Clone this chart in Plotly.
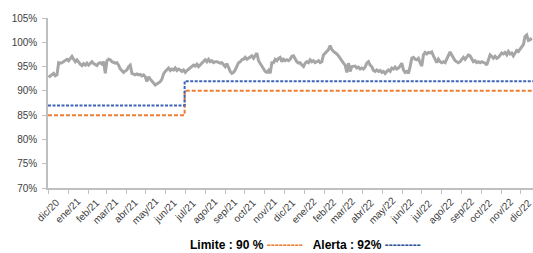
import pandas as pd
import plotly.graph_objects as go

# ---- data ----
start_date = "2020-12-02"
end_date = "2022-12-18"
indicator_values = [
    # dic/20 - jun/21
    92.8, 93.1, 93.5, 93.6, 93.1, 93.3, 95.8, 95.7, 95.8, 96.0, 96.2, 96.5, 96.2, 96.7, 97.1, 96.5,
    96.0, 96.4, 95.8, 95.5, 95.2, 95.6, 95.3, 95.7, 95.3, 95.7, 96.0, 95.6, 95.3, 95.2, 95.7, 95.8,
    95.5, 96.0, 93.6, 96.2, 96.5, 96.4, 96.0, 95.8, 95.7, 95.8, 95.3, 94.5, 94.2, 93.8, 94.1, 94.3,
    95.0, 95.3, 93.6, 93.5, 93.3, 93.5, 93.3, 93.4, 93.1, 93.3, 92.9, 91.9, 92.9, 92.4, 91.9, 91.6,
    91.2, 91.4, 91.7, 91.9, 92.4, 93.5, 94.0,
    # jun/21 - dic/21
    94.3, 94.7, 94.2, 94.5, 94.3, 94.7, 94.2, 94.5, 94.3, 94.0, 94.3, 93.8, 94.2, 94.5, 94.7, 95.0,
    95.3, 95.1, 95.5, 95.0, 95.3, 95.8, 96.0, 96.4, 96.0, 96.5, 96.0, 96.2, 95.8, 96.0, 96.0, 95.8,
    95.7, 95.8, 95.3, 95.0, 95.6, 94.7, 94.0, 93.6, 93.8, 94.3, 95.0, 95.8, 96.0, 96.4, 96.5, 96.9,
    96.5, 96.7, 96.9, 97.2, 96.7, 97.2, 97.8, 96.2, 95.7, 95.0, 94.5, 94.0, 93.8, 94.2, 93.6, 95.8,
    95.8, 96.5, 96.2, 96.7, 96.9, 96.0, 96.5, 96.2,
    # dic/21 - jun/22
    96.4, 96.2, 96.5, 97.1, 97.2, 96.5, 96.0, 95.7, 95.8, 95.3, 95.0, 95.7, 96.0, 95.8, 96.4, 96.0,
    96.2, 95.8, 96.0, 96.2, 95.8, 96.0, 97.4, 97.8, 98.1, 98.5, 99.3, 98.5, 98.1, 97.9, 97.6, 97.2,
    96.7, 96.0, 95.7, 95.3, 93.8, 95.7, 94.0, 95.0, 95.0, 95.1, 94.7, 94.9, 94.5, 94.7, 94.5, 94.9,
    95.7, 96.0, 95.3, 95.0, 94.2, 94.0, 94.3, 94.0, 94.2, 93.8, 94.0, 93.6, 94.0, 94.3, 94.0, 94.7,
    94.5, 94.9, 94.5, 94.7, 95.1,
    # jun/22 - dic/22
    95.7, 94.3, 93.8, 94.0, 93.6, 95.0, 96.7, 96.9, 96.5, 96.4, 96.7, 95.8, 95.1, 97.4, 97.9, 97.6,
    97.9, 97.8, 98.0, 97.2, 96.4, 95.8, 96.5, 96.0, 95.8, 96.0, 95.8, 96.5, 97.1, 98.0, 97.4, 96.7,
    96.2, 96.0, 95.8, 96.0, 96.4, 96.9, 96.5, 97.1, 97.4, 97.2, 96.7, 96.0, 96.2, 95.8, 96.0, 95.8,
    96.0, 95.8, 95.7, 95.3, 96.4, 97.4, 97.1, 96.7, 97.1, 96.7, 96.9, 97.4, 97.8, 97.6, 97.9, 97.4,
    98.1, 97.6, 97.8, 97.2, 97.8, 98.3, 98.1, 98.5, 99.1, 99.5, 101.2, 101.5, 100.4, 100.5, 100.9,
]

threshold_dates = ["2020-12-01", "2021-06-30", "2022-12-20"]
limite_values = [85, 90, 90]
alerta_values = [87, 92, 92]

tick_dates = pd.date_range("2020-12-01", "2022-12-01", freq="MS")
month_names = ["ene", "feb", "mar", "abr", "may", "jun", "jul", "ago", "sep", "oct", "nov", "dic"]
tick_labels = [f"{month_names[d.month - 1]}/{str(d.year)[2:]}" for d in tick_dates]

y_ticks = [70, 75, 80, 85, 90, 95, 100, 105]
y_tick_labels = [f"{v}%" for v in y_ticks]

# ---- figure ----
dates = pd.date_range(start_date, end_date, periods=len(indicator_values))

fig = go.Figure()
fig.add_trace(go.Scatter(
    x=threshold_dates, y=limite_values, mode="lines", line_shape="hv",
    line=dict(color="#ED7D31", width=2, dash="4px,2px"), showlegend=False,
))
fig.add_trace(go.Scatter(
    x=threshold_dates, y=alerta_values, mode="lines", line_shape="hv",
    line=dict(color="#3F65B8", width=2, dash="3px,1.5px"), showlegend=False,
))
fig.add_trace(go.Scatter(
    x=dates, y=indicator_values, mode="lines",
    line=dict(color="#A6A6A6", width=3), showlegend=False,
))

font_family = "Liberation Sans, Arial, sans-serif"

# x tick labels centred under their ticks, rotated 45 degrees (Excel style)
tick_annotations = [
    dict(xref="x", yref="paper", x=d, y=-0.135, text=lbl, textangle=-45,
         xanchor="center", yanchor="middle", showarrow=False,
         font=dict(family=font_family, size=10, color="#404040"))
    for d, lbl in zip(tick_dates, tick_labels)
]

legend_annotation = dict(
    xref="paper", yref="paper", x=0.53, y=-0.338,
    xanchor="center", yanchor="middle", showarrow=False,
    font=dict(family=font_family, size=12, color="#000000"),
    text=("<b>Limite : 90 %</b> <span style='color:#ED7D31'><b>---------</b></span>"
          "   <b>Alerta : 92%</b> <span style='color:#2F5597'><b>---------</b></span>"),
)

fig.update_layout(
    width=533, height=253,
    margin=dict(l=48, r=0, t=18, b=65),
    paper_bgcolor="white", plot_bgcolor="white",
    font=dict(family=font_family, size=10, color="#404040"),
    xaxis=dict(
        range=["2020-12-01", "2022-12-20"],
        tickvals=list(tick_dates), showticklabels=False,
        showgrid=False, zeroline=False,
        showline=True, linecolor="#BFBFBF", linewidth=1.5,
        ticks="outside", ticklen=4, tickcolor="#BFBFBF",
    ),
    yaxis=dict(
        range=[70, 105], tickvals=y_ticks, ticktext=y_tick_labels,
        tickfont=dict(size=10, color="#404040"), ticklabelstandoff=3,
        showgrid=False, zeroline=False,
        showline=True, linecolor="#BFBFBF", linewidth=1.5,
        ticks="outside", ticklen=4, tickcolor="#BFBFBF",
    ),
    annotations=tick_annotations + [legend_annotation],
)

fig.write_html(
    "out.html",
    config={"displayModeBar": False},
    post_script="document.body.style.margin='0';document.body.style.overflow='hidden';",
)
